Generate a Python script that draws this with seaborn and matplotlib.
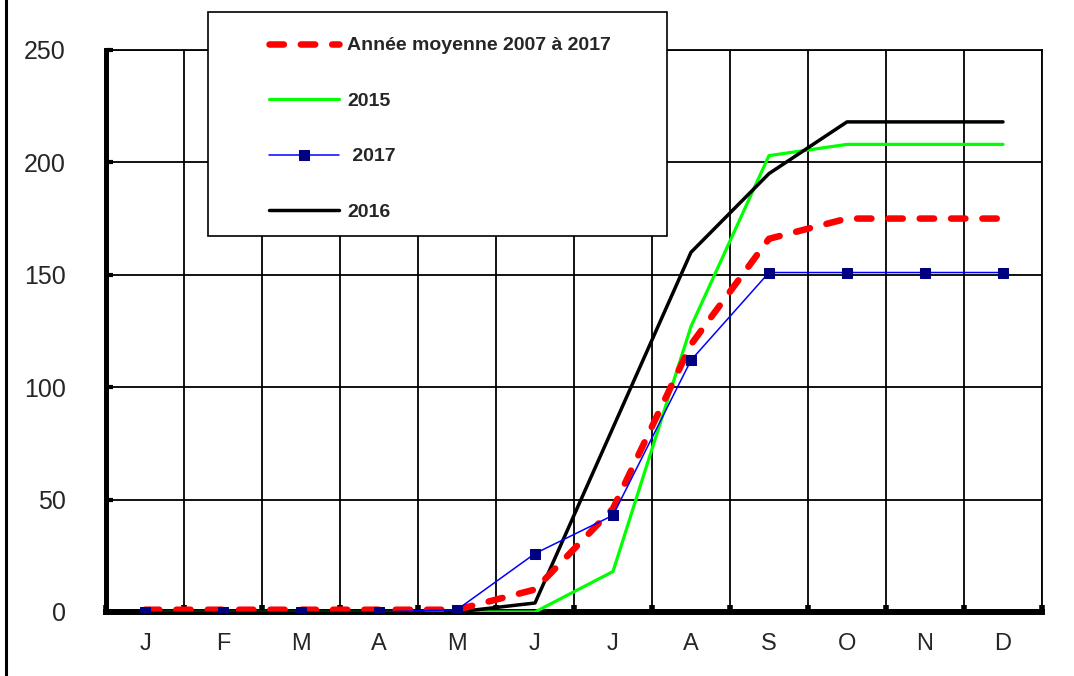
import numpy as np
import pandas as pd
import matplotlib
matplotlib.use("Agg")
import matplotlib.pyplot as plt
from matplotlib.patches import Rectangle
from matplotlib.lines import Line2D
import seaborn as sns

mois = ["J", "F", "M", "A", "M", "J", "J", "A", "S", "O", "N", "D"]
moyenne = [1, 1, 1, 1, 1, 10, 46, 119, 166, 175, 175, 175]
v2015 = [0, 0, 0, 0, 0, 0, 18, 127, 203, 208, 208, 208]
v2017 = [0, 0, 0, 0, 1, 26, 43, 112, 151, 151, 151, 151]
v2016 = [0, 0, 0, 0, 0, 4, 82, 160, 195, 218, 218, 218]

df = pd.DataFrame({"pos": np.arange(len(mois)), "moyenne": moyenne,
                   "v2015": v2015, "v2017": v2017, "v2016": v2016})

sns.set_style("white")
plt.rcParams["font.family"] = ["Liberation Sans", "DejaVu Sans"]

fig = plt.figure(figsize=(10.74, 6.76), dpi=100)
ax = fig.add_axes([0.0987, 0.0947, 0.8715, 0.8314])

sns.lineplot(data=df, x="pos", y="v2015", ax=ax, color="#00ff00", linewidth=2.3,
             label="2015", zorder=3)
sns.lineplot(data=df, x="pos", y="v2016", ax=ax, color="black", linewidth=2.5,
             label="2016", zorder=4)
sns.lineplot(data=df, x="pos", y="moyenne", ax=ax, color="red", linewidth=4.7,
             linestyle=(0, (2.2, 2.6)), dash_capstyle="round",
             label="Année moyenne 2007 à 2017", zorder=5)
sns.lineplot(data=df, x="pos", y="v2017", ax=ax, color="blue", linewidth=1.1,
             marker="s", markersize=7, markerfacecolor="#000080",
             markeredgecolor="#000080", label=" 2017", zorder=6)

ax.set_xlim(-0.5, 11.5)
ax.set_ylim(0, 250)
ax.set_xticks(np.arange(len(mois)))
ax.set_xticklabels(mois)
ax.set_xticks(np.arange(-0.5, 12, 1), minor=True)
ax.set_yticks(np.arange(0, 251, 50))
ax.set_xlabel("")
ax.set_ylabel("")

ax.grid(False)
ax.grid(True, which="minor", axis="x", color="black", linewidth=1.3)
ax.grid(True, which="major", axis="y", color="black", linewidth=1.3)
ax.set_axisbelow(True)

ax.tick_params(axis="x", which="major", length=0, pad=15, labelsize=17)
ax.tick_params(axis="x", which="minor", direction="in", length=5, width=4,
               color="black", bottom=True)
ax.tick_params(axis="y", which="major", direction="in", length=5, width=3,
               color="black", pad=29, labelsize=18, left=True)

for side in ["left", "bottom"]:
    ax.spines[side].set_color("black")
ax.spines["left"].set_linewidth(3.6)
ax.spines["bottom"].set_linewidth(4.3)
ax.spines["bottom"].set_capstyle("projecting")
for side in ["top", "right"]:
    ax.spines[side].set_color("black")
    ax.spines[side].set_linewidth(1.3)

ax.get_legend().remove()
handles, labels = ax.get_legend_handles_labels()
order = ["Année moyenne 2007 à 2017", "2015", " 2017", "2016"]
hmap = dict(zip(labels, handles))

fig.add_artist(Rectangle((0.1937, 0.6509), 0.4274, 0.3314, transform=fig.transFigure,
                         facecolor="white", edgecolor="black", linewidth=1.2, zorder=4))
fig.legend([hmap[k] for k in order], order, loc="upper left",
           bbox_to_anchor=(259 / 1074, 1 - 27 / 676), frameon=False, borderpad=0,
           handlelength=3.6, handletextpad=0.45, labelspacing=1.95,
           prop={"weight": "bold", "size": 14})

fig.add_artist(Line2D([0.006, 0.006], [0, 1], transform=fig.transFigure,
                      color="black", linewidth=2.2))

fig.savefig("out.png", dpi=100)
